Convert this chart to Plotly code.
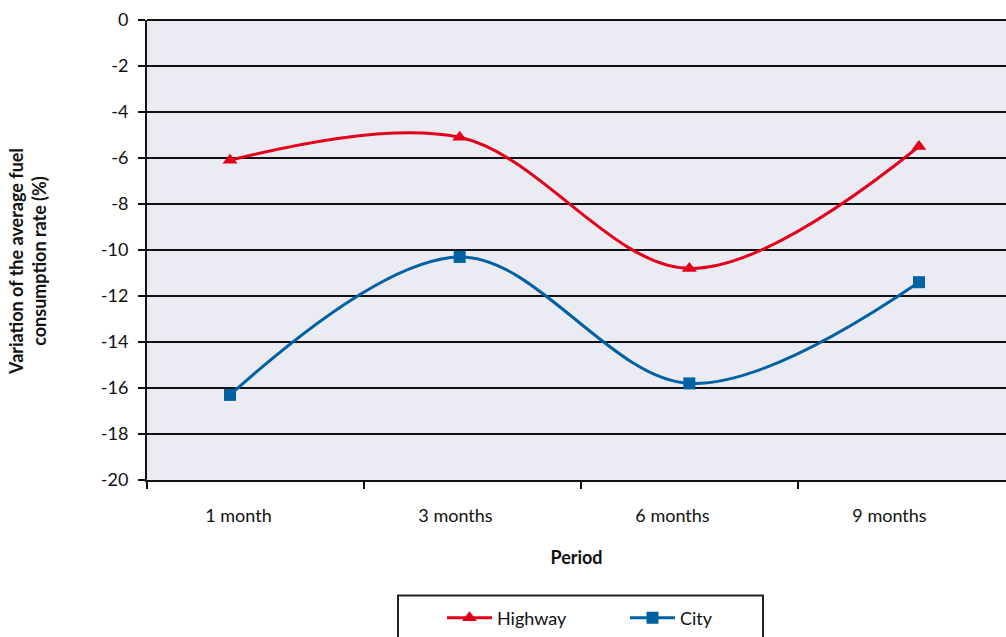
import plotly.graph_objects as go

# Variation of average fuel consumption rate by period after training
periods = ["1 month", "3 months", "6 months", "9 months"]
highway = [-6.1, -5.1, -10.8, -5.5]
city = [-16.3, -10.3, -15.8, -11.4]
y_ticks = [0, -2, -4, -6, -8, -10, -12, -14, -16, -18, -20]

FONT = "Lato"
RED = "#E2001A"
BLUE = "#0061A3"
INK = "#111111"

idx = list(range(len(periods)))

fig = go.Figure()
fig.add_trace(go.Scatter(
    x=idx, y=highway, name="Highway", mode="lines+markers",
    line=dict(color=RED, width=3, shape="spline", smoothing=1.0),
    marker=dict(symbol="triangle-up", size=13, color=RED),
))
fig.add_trace(go.Scatter(
    x=idx, y=city, name="City", mode="lines+markers",
    line=dict(color=BLUE, width=3, shape="spline", smoothing=1.0),
    marker=dict(symbol="square", size=12, color=BLUE),
))
# invisible carrier so the period axis is drawn
fig.add_trace(go.Scatter(x=[0], y=[None], xaxis="x2", showlegend=False,
                         hoverinfo="skip", mode="markers"))

fig.update_layout(
    width=1006, height=637,
    margin=dict(l=147, r=0, t=20, b=155),
    paper_bgcolor="white",
    plot_bgcolor="#EBEBF4",
    font=dict(family=FONT, size=18, color=INK),
    showlegend=True,
    legend=dict(
        orientation="h", x=0.3434, xanchor="left", y=-0.2597, yanchor="top",
        borderwidth=0, bgcolor="rgba(0,0,0,0)",
        font=dict(family=FONT, size=18),
        entrywidth=123, entrywidthmode="pixels", itemwidth=45,
    ),
    # data axis (hidden)
    xaxis=dict(
        range=[-0.3614, 3.3788], showgrid=False, zeroline=False,
        showticklabels=False, ticks="", showline=False, fixedrange=True,
    ),
    # period axis with boundary ticks and labels
    xaxis2=dict(
        overlaying="x", anchor="y", side="bottom",
        range=[-0.5, 3.4585], showgrid=False, zeroline=False,
        tickmode="array", tickvals=idx, ticktext=periods, ticks="",
        ticklabelshift=-17, ticklabelstandoff=18,
        tickfont=dict(family=FONT, size=18),
        minor=dict(tickmode="array", tickvals=[-0.5, 0.5, 1.5, 2.5, 3.5],
                   ticks="outside", ticklen=7, tickwidth=2, tickcolor=INK),
        showline=True, linecolor=INK, linewidth=2,
        title=dict(text="<b>Period</b>", font=dict(family=FONT, size=18), standoff=27),
    ),
    yaxis=dict(
        range=[-20, 0], tickmode="array", tickvals=y_ticks,
        ticktext=[str(v) for v in y_ticks],
        showgrid=True, gridcolor=INK, gridwidth=2,
        zeroline=True, zerolinecolor=INK, zerolinewidth=2,
        showline=True, linecolor=INK, linewidth=2,
        ticks="outside", ticklen=7, tickwidth=2, tickcolor=INK,
        ticklabelstandoff=6,
        tickfont=dict(family=FONT, size=18),
    ),
    annotations=[dict(
        text="<b>Variation of the average fuel<br>consumption rate (%)</b>",
        xref="paper", yref="paper", x=-0.1385, y=0.474,
        xanchor="center", yanchor="middle", textangle=-90,
        showarrow=False, font=dict(family=FONT, size=18, color=INK),
    )],
    shapes=[dict(
        type="rect", xref="paper", yref="paper",
        x0=0.2922, x1=0.7171, y0=-0.40, y1=-0.2511,
        line=dict(color="#222222", width=2), fillcolor="rgba(0,0,0,0)",
        layer="above",
    )],
)

fig.write_html("out.html")
